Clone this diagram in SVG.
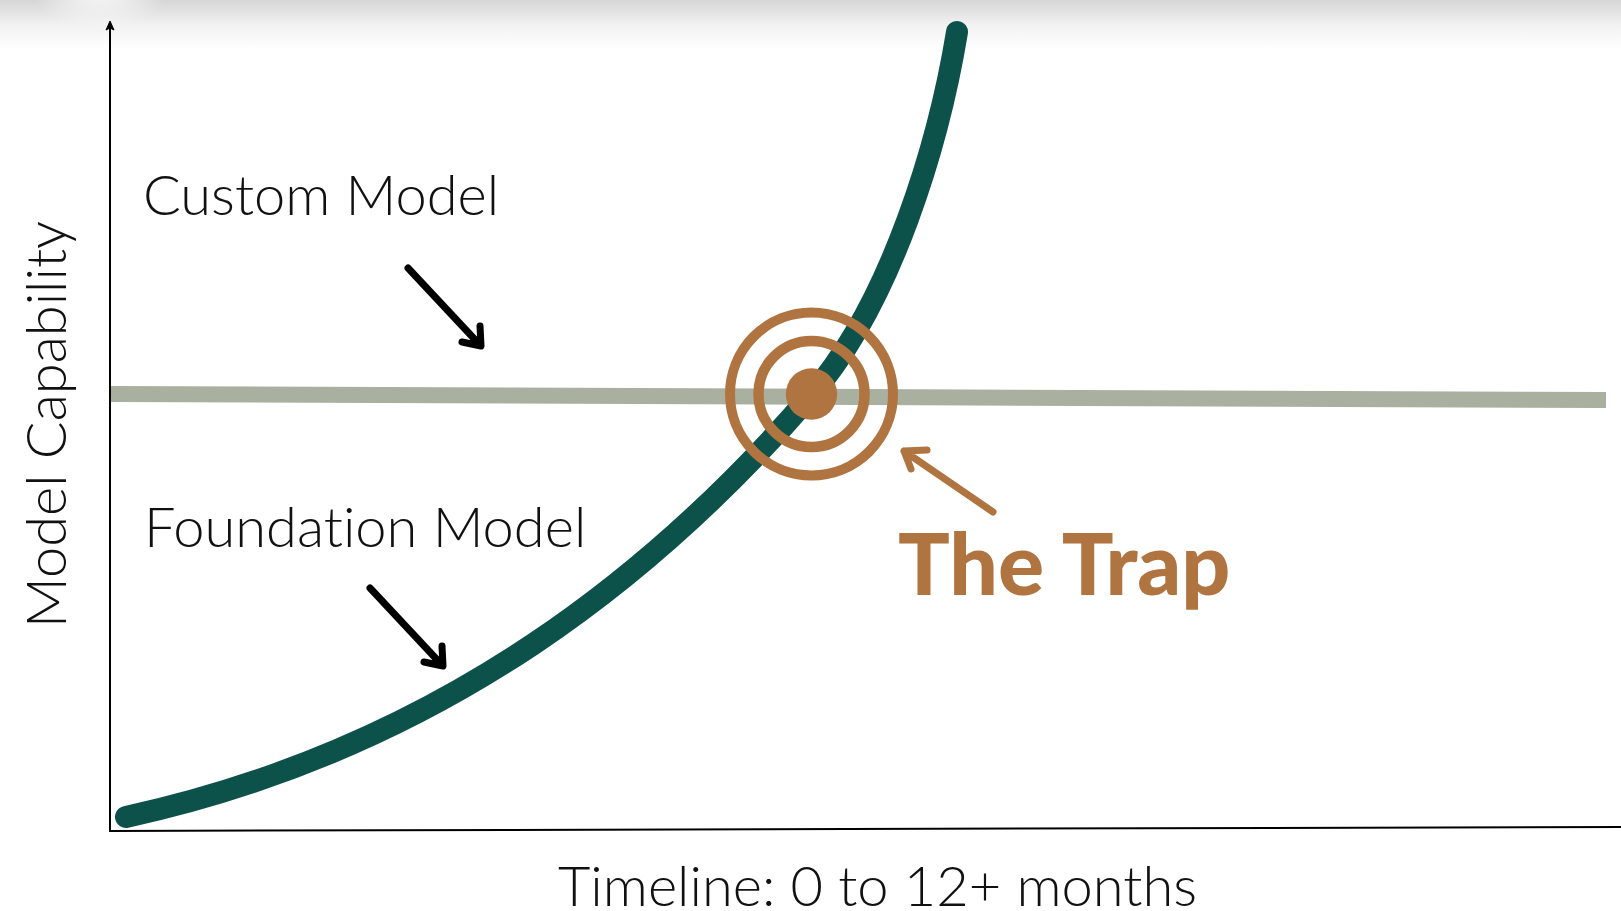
<svg xmlns="http://www.w3.org/2000/svg" width="1621" height="911" viewBox="0 0 1621 911">
  <defs>
    <linearGradient id="topShade" x1="0" y1="0" x2="0" y2="1">
      <stop offset="0" stop-color="#d6d6d6"/>
      <stop offset="0.5" stop-color="#f2f2f2"/>
      <stop offset="1" stop-color="#ffffff"/>
    </linearGradient>
    <radialGradient id="topGlow" cx="0.5" cy="0.2" r="0.5">
      <stop offset="0" stop-color="#ffffff" stop-opacity="1"/>
      <stop offset="1" stop-color="#ffffff" stop-opacity="0"/>
    </radialGradient>
  </defs>
  <style>
    .label { font-family: Lato, "Liberation Sans", sans-serif; font-weight: 300; fill: #111; font-variant-ligatures: none; }
    .axis { stroke: #000; stroke-width: 2; fill: none; }
    .pointer { stroke: #000; stroke-width: 7; fill: none; stroke-linecap: round; stroke-linejoin: round; }
    .trap { stroke: #b07440; fill: none; }
  </style>

  <rect width="1621" height="911" fill="#ffffff"/>
  <rect x="0" y="0" width="1621" height="50" fill="url(#topShade)"/>
  <ellipse cx="100" cy="12" rx="70" ry="45" fill="url(#topGlow)"/>

  <!-- axes -->
  <g id="axes">
    <line class="axis" x1="110" y1="831" x2="110" y2="26"/>
    <path d="M110,21 L114,30 L110,28 L106,30 Z" fill="#000" stroke="#000" stroke-width="1"/>
    <line class="axis" x1="109" y1="831" x2="1621" y2="827"/>
    <text class="label" font-size="56" transform="translate(66,628) rotate(-90)">Model Capability</text>
    <text class="label" x="558" y="906" font-size="56">Timeline: 0 to 12+ months</text>
  </g>

  <g id="connectors">
    <!-- custom model baseline -->
    <line x1="111" y1="394" x2="1606" y2="400" stroke="#a9b09f" stroke-width="16"/>
    <!-- foundation model growth curve -->
    <path d="M126,817 C446,747 662,568 812,394 C892,301 939,142 957,32"
          fill="none" stroke="#0d514b" stroke-width="22" stroke-linecap="round"/>
    <!-- label pointers -->
    <path class="pointer" d="M408,268 L480,345 M462,342 L481,346 L480,326"/>
    <path class="pointer" d="M370,588 L442,665 M424,662 L443,666 L442,646"/>
    <path d="M993,512 L904,451 M927,450 L904,451 L911,469" stroke="#b07440" stroke-width="7" fill="none" stroke-linecap="round" stroke-linejoin="round"/>
  </g>

  <g id="node-custom">
    <text class="label" x="143" y="215" font-size="56">Custom Model</text>
  </g>

  <g id="node-foundation">
    <text class="label" x="144" y="547" font-size="56">Foundation Model</text>
  </g>

  <g id="node-target">
    <circle class="trap" cx="811.5" cy="394" r="81.5" stroke-width="10"/>
    <circle class="trap" cx="811.5" cy="394" r="53" stroke-width="10.5"/>
    <circle cx="811.5" cy="394" r="25.7" fill="#b07440"/>
  </g>

  <g id="node-trap">
    <text x="898" y="595" font-family="Lato, 'Liberation Sans', sans-serif" font-weight="900" font-size="86" fill="#b07440">The Trap</text>
  </g>
</svg>
